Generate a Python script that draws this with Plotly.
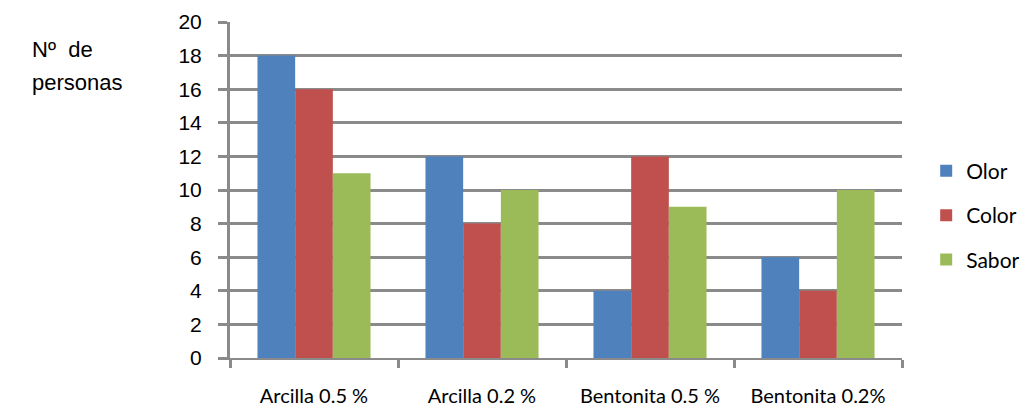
import plotly.graph_objects as go

categories = ["Arcilla 0.5 %", "Arcilla 0.2 %", "Bentonita 0.5 %", "Bentonita 0.2%"]
olor = [18, 12, 4, 6]
color = [16, 8, 12, 4]
sabor = [11, 10, 9, 10]
y_ticks = [0, 2, 4, 6, 8, 10, 12, 14, 16, 18, 20]

series = [
    ("Olor", olor, "#4F81BD"),
    ("Color", color, "#C0504D"),
    ("Sabor", sabor, "#9BBB59"),
]

fig = go.Figure()
for name, vals, col in series:
    fig.add_trace(go.Bar(
        x=categories, y=vals, name=name, legendgroup=name,
        marker=dict(color=col, line=dict(width=0)),
    ))

grid = "#8A8A8A"
title_font = dict(family="Liberation Sans, Arial", size=22, color="black")
fig.update_layout(
    width=1026, height=409,
    margin=dict(l=230, r=124, t=22, b=51, autoexpand=False),
    paper_bgcolor="white", plot_bgcolor="white",
    barmode="group", bargap=0.327, bargroupgap=0,
    font=dict(family="Liberation Sans, Arial", size=17, color="black"),
    legend=dict(
        x=1.036, y=0.425, xanchor="left", yanchor="middle",
        font=dict(family="Lato, Liberation Sans", size=21),
        tracegroupgap=14, itemwidth=30,
    ),
    xaxis=dict(
        type="category", showgrid=False, showline=True, linecolor=grid, linewidth=2,
        ticks="outside", tickson="boundaries", ticklen=8, tickwidth=3, tickcolor=grid,
        tickfont=dict(family="Lato, Liberation Sans", size=20),
        ticklabelstandoff=19, automargin=False,
    ),
    yaxis=dict(
        range=[0, 20], tickvals=y_ticks, showgrid=True, gridcolor=grid, gridwidth=3,
        showline=True, linecolor=grid, linewidth=3, zeroline=False,
        ticks="outside", ticklen=9, tickwidth=3, tickcolor=grid,
        tickfont=dict(family="Liberation Sans, Arial", size=21),
        ticklabelstandoff=12, automargin=False,
    ),
    annotations=[
        dict(text="Nº  de", xref="paper", yref="paper", x=-0.2976, y=0.9196,
             xanchor="left", yanchor="middle", showarrow=False, font=title_font),
        dict(text="personas", xref="paper", yref="paper", x=-0.2976, y=0.8214,
             xanchor="left", yanchor="middle", showarrow=False, font=title_font),
    ],
)

fig.write_html("out.html")
